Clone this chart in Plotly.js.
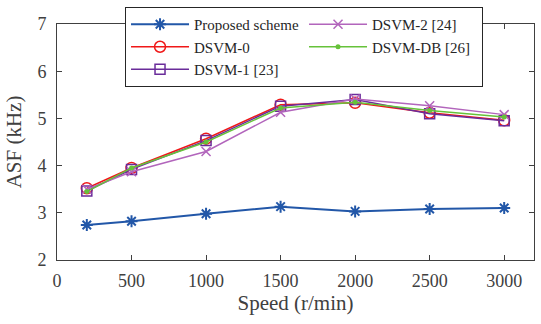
<!DOCTYPE html>
<html><head><meta charset="utf-8">
<script src="https://cdn.plot.ly/plotly-3.0.1.min.js"></script>
<style>html,body{margin:0;padding:0;background:#fff}#c{width:541px;height:324px}</style>
</head><body><div id="c"></div>
<script>
const speed = [200, 500, 1000, 1500, 2000, 2500, 3000];
const proposed = [2.74, 2.82, 2.98, 3.13, 3.03, 3.08, 3.10];
const dsvm0 = [3.52, 3.95, 4.57, 5.29, 5.33, 5.12, 4.96];
const dsvm1 = [3.46, 3.92, 4.53, 5.26, 5.40, 5.10, 4.95];
const dsvm2 = [3.50, 3.87, 4.30, 5.13, 5.41, 5.27, 5.08];
const dsvmDB = [3.45, 3.95, 4.50, 5.22, 5.34, 5.17, 5.03];
const xTicks = [0, 500, 1000, 1500, 2000, 2500, 3000];
const yTicks = [2, 3, 4, 5, 6, 7];

const traces = [
  {x: speed, y: proposed, name: 'Proposed scheme', legendrank: 1, mode: 'lines+markers',
   line: {color: '#2257a8', width: 2}, marker: {symbol: 'asterisk-open', size: 10, color: '#2257a8', line: {width: 2, color: '#2257a8'}}},
  {x: speed, y: dsvm0, name: 'DSVM-0', legendrank: 3, mode: 'lines+markers',
   line: {color: '#f01818', width: 1.5}, marker: {symbol: 'circle-open', size: 11, color: '#f01818', line: {width: 1.5, color: '#f01818'}}},
  {x: speed, y: dsvm1, name: 'DSVM-1 [23]', legendrank: 5, mode: 'lines+markers',
   line: {color: '#6a2c9a', width: 1.5}, marker: {symbol: 'square-open', size: 10, color: '#6a2c9a', line: {width: 1.5, color: '#6a2c9a'}}},
  {x: speed, y: dsvm2, name: 'DSVM-2 [24]', legendrank: 2, mode: 'lines+markers',
   line: {color: '#b265bc', width: 1.5}, marker: {symbol: 'x-thin-open', size: 9, color: '#b265bc', line: {width: 1.5, color: '#b265bc'}}},
  {x: speed, y: dsvmDB, name: 'DSVM-DB [26]', legendrank: 4, mode: 'lines+markers',
   line: {color: '#66c23a', width: 1.5}, marker: {symbol: 'circle', size: 5, color: '#66c23a'}}
];

const fam = '"Liberation Serif", "Times New Roman", serif';
const tickFont = {family: fam, size: 18, color: '#404040'};
const titleFont = {family: fam, size: 21, color: '#404040'};
const layout = {
  width: 541, height: 324,
  margin: {l: 57, r: 7, t: 19, b: 64},
  paper_bgcolor: '#fff', plot_bgcolor: '#fff',
  font: tickFont,
  showlegend: true,
  legend: {
    orientation: 'h', x: 0.1426, y: 1.072, xanchor: 'left', yanchor: 'top',
    bgcolor: '#fff', bordercolor: '#262626', borderwidth: 1,
    font: {family: fam, size: 15, color: '#262626'},
    entrywidth: 105, tracegroupgap: 0, itemwidth: 58, traceorder: 'normal'
  },
  xaxis: {
    range: [0, 3200], tickvals: xTicks, ticktext: xTicks.map(String),
    ticks: 'inside', ticklen: 5, tickcolor: '#404040', linecolor: '#404040', linewidth: 1,
    showline: true, mirror: 'ticks', showgrid: false, zeroline: false,
    ticklabelstandoff: 4,
    title: {text: 'Speed (r/min)', font: titleFont, standoff: 4},
    tickfont: tickFont
  },
  yaxis: {
    range: [2, 7], tickvals: yTicks, ticktext: yTicks.map(String),
    ticks: 'inside', ticklen: 5, tickcolor: '#404040', linecolor: '#404040', linewidth: 1,
    showline: true, mirror: 'ticks', showgrid: false, zeroline: false,
    ticklabelstandoff: 6,
    title: {text: 'ASF (kHz)', font: titleFont, standoff: 10},
    tickfont: tickFont
  }
};
Plotly.newPlot('c', traces, layout, {displayModeBar: false, staticPlot: true});
</script></body></html>
